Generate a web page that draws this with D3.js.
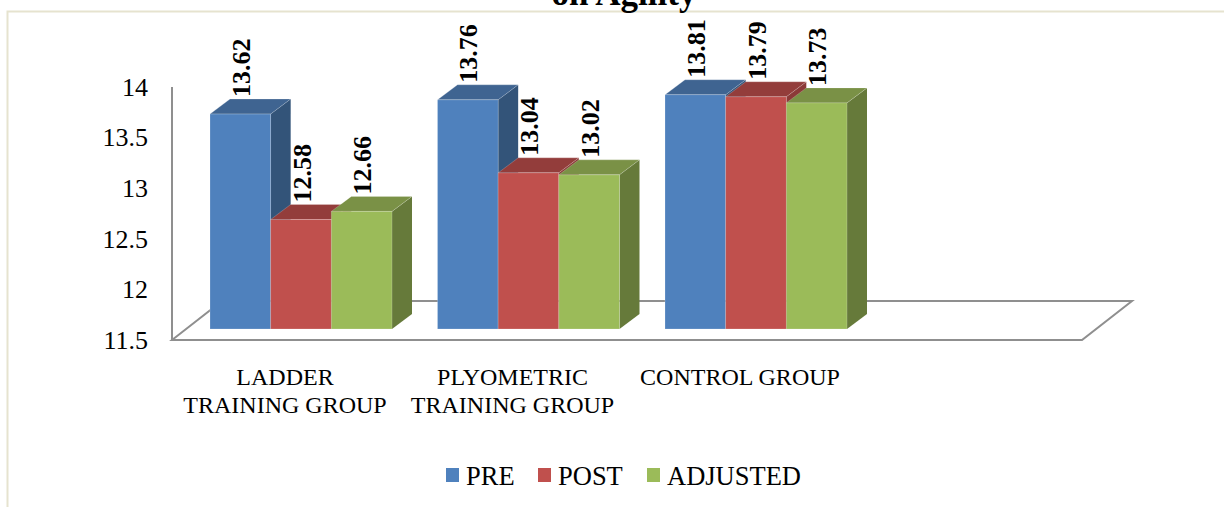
<!DOCTYPE html>
<html>
<head>
<meta charset="utf-8">
<script src="https://cdn.jsdelivr.net/npm/d3@7"></script>
<style>
  html, body { margin: 0; padding: 0; background: #fff; }
  svg { display: block; font-family: "Liberation Serif", "Times New Roman", serif; }
</style>
</head>
<body>
<svg id="chart" width="1224" height="507"></svg>
<script>
const groups = ["LADDER TRAINING GROUP", "PLYOMETRIC TRAINING GROUP", "CONTROL GROUP"];
const groupLines = [["LADDER", "TRAINING GROUP"], ["PLYOMETRIC", "TRAINING GROUP"], ["CONTROL GROUP"]];
const seriesNames = ["PRE", "POST", "ADJUSTED"];
const pre = [13.62, 13.76, 13.81];
const post = [12.58, 13.04, 13.79];
const adjusted = [12.66, 13.02, 13.73];
const yTicks = [11.5, 12, 12.5, 13, 13.5, 14];
const yTickLabels = ["11.5", "12", "12.5", "13", "13.5", "14"];
const frontColors = ["#4f81bd", "#c0504d", "#9bbb59"];
const sideColors = ["#335479", "#8b3a38", "#667a3a"];
const topColors = ["#3f6491", "#933d3b", "#7a9146"];

const seriesValues = [pre, post, adjusted];
const svg = d3.select("#chart");

// Page frame around the embedded chart
svg.append("path").attr("d", "M7.5,507V11.5H1224").attr("fill", "none")
  .attr("stroke", "#e6e3cf").attr("stroke-width", 2);

// Heading, running off the top of the frame
svg.append("text").attr("x", 624).attr("y", 5).attr("text-anchor", "middle")
  .attr("font-weight", "bold").attr("font-size", 35).text("on Agility");

// Front plane of the bars, and the wall plane that carries the axis
const y = d3.scaleLinear().domain([11.5, 14]).range([329, 75.5]);
const yWall = d3.scaleLinear().domain([11.5, 14]).range([340, 87]);
const x0 = d3.scaleBand().domain(groups).range([210, 847]).paddingInner(0.2);
const x1 = d3.scaleBand().domain(seriesNames).range([0, x0.bandwidth()]);

const depthX = 20, depthY = 15;
const floorBase = yWall(11.5);
const wallX = 172, floorRight = 1082, floorDepthX = 50, floorDepthY = 39;

// Floor outline and vertical axis
const axisStroke = "#8f8f8f";
svg.append("path")
  .attr("d", `M${wallX},${floorBase}L${wallX + floorDepthX},${floorBase - floorDepthY}H${floorRight + floorDepthX}L${floorRight},${floorBase}Z`)
  .attr("fill", "#fff").attr("stroke", axisStroke).attr("stroke-width", 2);
svg.append("line").attr("x1", wallX).attr("x2", wallX)
  .attr("y1", yWall(14)).attr("y2", floorBase)
  .attr("stroke", axisStroke).attr("stroke-width", 2);

// Value axis labels
const axis = d3.axisLeft(yWall).tickValues(yTicks).tickSize(0)
  .tickFormat((d, i) => yTickLabels[i]);
const axisG = svg.append("g").attr("transform", "translate(148,0)").call(axis)
  .attr("font-family", "'Liberation Serif', 'Times New Roman', serif")
  .attr("font-size", 26);
axisG.select(".domain").remove();
axisG.selectAll("text").attr("x", 0).attr("fill", "#000").attr("dy", "0.32em");

// Bars as extruded prisms, painted left to right
groups.forEach((g, gi) => {
  seriesNames.forEach((s, si) => {
    const v = seriesValues[si][gi];
    const xl = x0(g) + x1(s), w = x1.bandwidth();
    const yt = y(v), yb = y(11.5);
    const bar = svg.append("g").attr("class", "bar");
    bar.append("path")
      .attr("d", `M${xl + w},${yt}l${depthX},${-depthY}V${yb - depthY}l${-depthX},${depthY}Z`)
      .attr("fill", sideColors[si]);
    bar.append("path")
      .attr("d", `M${xl},${yt}l${depthX},${-depthY}h${w}l${-depthX},${depthY}Z`)
      .attr("fill", topColors[si]).attr("stroke", "#fff").attr("stroke-opacity", 0.25).attr("stroke-width", 0.8);
    bar.append("rect").attr("x", xl).attr("y", yt).attr("width", w).attr("height", yb - yt)
      .attr("fill", frontColors[si]).attr("stroke", "#fff").attr("stroke-opacity", 0.25).attr("stroke-width", 0.8);
  });
});

// Rotated value labels sit above the back edge of each bar top
groups.forEach((g, gi) => {
  seriesNames.forEach((s, si) => {
    const v = seriesValues[si][gi];
    const cx = x0(g) + x1(s) + x1.bandwidth() / 2 + 1;
    const by = y(v) - depthY - 2;
    svg.append("text")
      .attr("transform", `translate(${cx},${by}) rotate(-90)`)
      .attr("dy", "0.33em")
      .attr("font-weight", "bold").attr("font-size", 26)
      .text(v.toFixed(2));
  });
});

// Category labels
groups.forEach((g, gi) => {
  const cx = x0(g) + x0.bandwidth() / 2 - 16;
  groupLines[gi].forEach((line, li) => {
    svg.append("text").attr("x", cx).attr("y", 385 + li * 27.5)
      .attr("text-anchor", "middle").attr("font-size", 24).text(line);
  });
});

// Legend
const legendX = d3.scaleOrdinal().domain(seriesNames).range([446, 538, 647]);
seriesNames.forEach((s, i) => {
  svg.append("rect").attr("x", legendX(s)).attr("y", 468).attr("width", 13).attr("height", 14)
    .attr("fill", frontColors[i]);
  svg.append("text").attr("x", legendX(s) + 20).attr("y", 485)
    .attr("font-size", 26.5).text(s);
});
</script>
</body>
</html>
